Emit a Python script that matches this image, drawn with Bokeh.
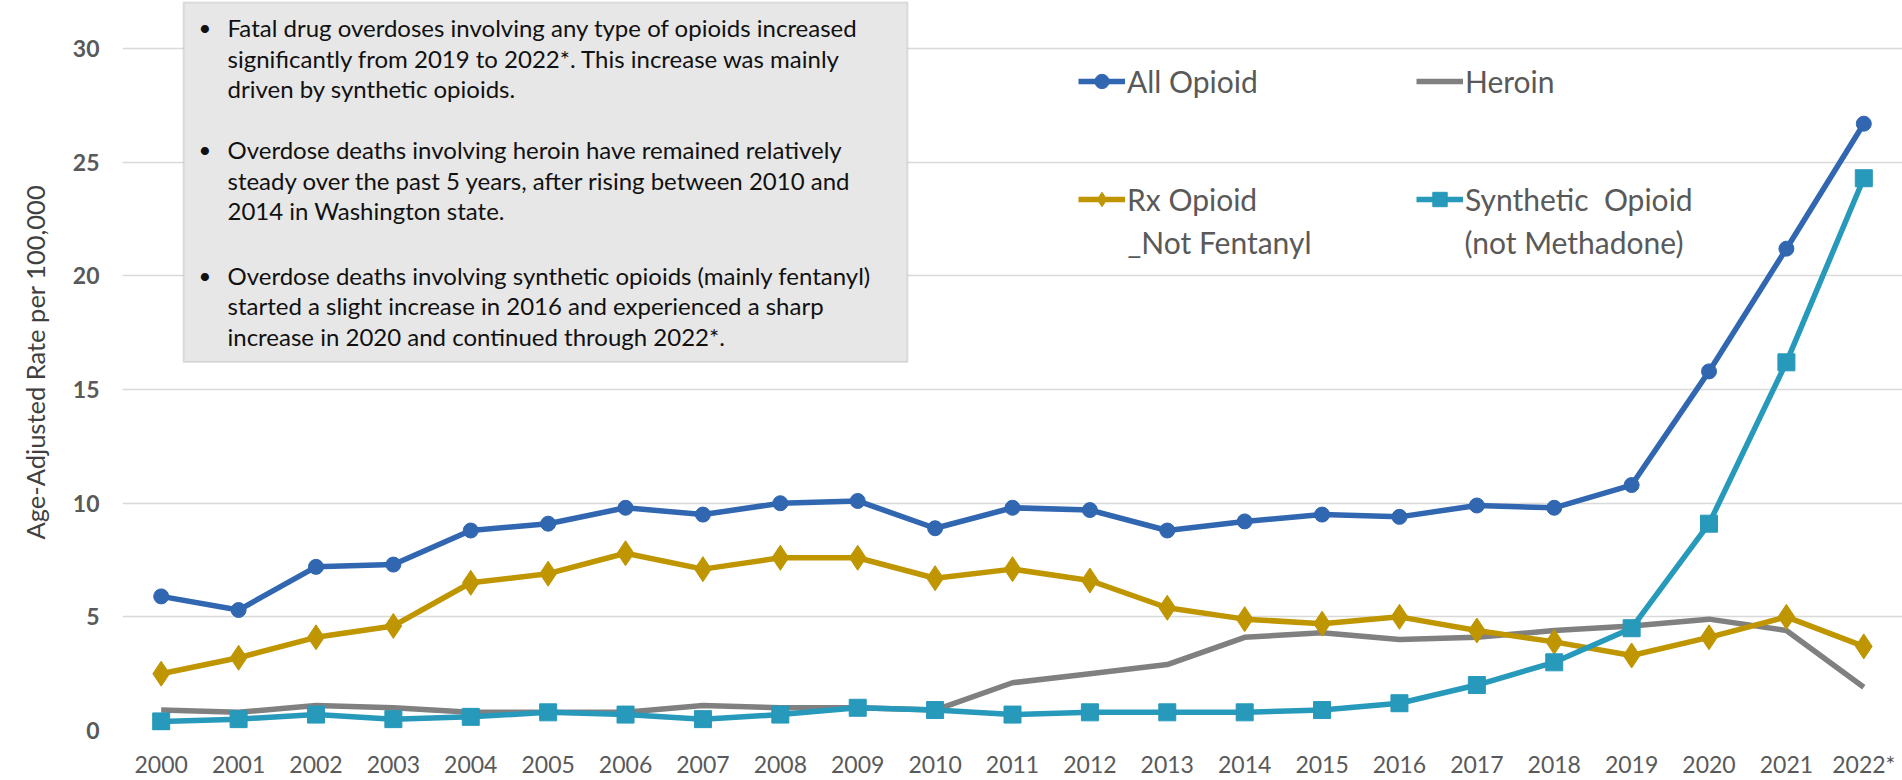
from bokeh.embed import file_html
from bokeh.models import (BoxAnnotation, FixedTicker, Label, Legend, LegendItem,
                          Range1d, Title)
from bokeh.plotting import figure
from bokeh.resources import INLINE

# ---- data: age-adjusted overdose death rate per 100,000, Washington state ----
years = list(range(2000, 2023))
year_labels = [str(y) for y in range(2000, 2022)] + ["2022*"]
y_ticks = [0, 5, 10, 15, 20, 25, 30]

all_opioid = [5.9, 5.3, 7.2, 7.3, 8.8, 9.1, 9.8, 9.5, 10.0, 10.1, 8.9, 9.8,
              9.7, 8.8, 9.2, 9.5, 9.4, 9.9, 9.8, 10.8, 15.8, 21.2, 26.7]
heroin = [0.9, 0.8, 1.1, 1.0, 0.8, 0.8, 0.8, 1.1, 1.0, 1.0, 0.9, 2.1,
          2.5, 2.9, 4.1, 4.3, 4.0, 4.1, 4.4, 4.6, 4.9, 4.4, 1.9]
rx_opioid = [2.5, 3.2, 4.1, 4.6, 6.5, 6.9, 7.8, 7.1, 7.6, 7.6, 6.7, 7.1,
             6.6, 5.4, 4.9, 4.7, 5.0, 4.4, 3.9, 3.3, 4.1, 5.0, 3.7]
synthetic = [0.4, 0.5, 0.7, 0.5, 0.6, 0.8, 0.7, 0.5, 0.7, 1.0, 0.9, 0.7,
             0.8, 0.8, 0.8, 0.9, 1.2, 2.0, 3.0, 4.5, 9.1, 16.2, 24.3]

notes = [
    ["Fatal drug overdoses involving any type of opioids increased",
     "significantly from 2019 to 2022*. This increase was mainly",
     "driven by synthetic opioids."],
    ["Overdose deaths involving heroin have remained relatively",
     "steady over the past 5 years, after rising between 2010 and",
     "2014 in Washington state."],
    ["Overdose deaths involving synthetic opioids (mainly fentanyl)",
     "started a slight increase in 2016 and experienced a sharp",
     "increase in 2020 and continued through 2022*."],
]

# ---- canvas geometry ----
W, H = 1902, 780
FRAME_LEFT = 122
FRAME_BOTTOM_BORDER = 49
FRAME_H = H - FRAME_BOTTOM_BORDER
X_START, X_END = years[0] - 0.5, years[-1] + 0.5
Y_END = 32.12

FONT = "Lato"
TICK_COLOR = "#595959"


def dx(px):
    """canvas pixel column -> data x"""
    return X_START + (px - FRAME_LEFT) * (X_END - X_START) / (W - FRAME_LEFT)


def dy(py):
    """canvas pixel row (from top) -> data y"""
    return (FRAME_H - py) * Y_END / FRAME_H


p = figure(
    width=W, height=H,
    x_range=Range1d(X_START, X_END), y_range=Range1d(0, Y_END),
    output_backend="svg", toolbar_location=None,
    min_border_left=FRAME_LEFT, min_border_right=0,
    min_border_top=0, min_border_bottom=FRAME_BOTTOM_BORDER,
)
p.outline_line_color = None
p.background_fill_color = "white"
p.border_fill_color = "white"

# axes
p.xaxis.ticker = FixedTicker(ticks=years)
p.xaxis.major_label_overrides = {y: lab for y, lab in zip(years, year_labels)}
p.yaxis.ticker = FixedTicker(ticks=y_ticks)
for ax in (p.xaxis[0], p.yaxis[0]):
    ax.axis_line_color = None
    ax.major_tick_line_color = None
    ax.minor_tick_line_color = None
    ax.major_tick_out = 0
    ax.major_tick_in = 0
    ax.major_label_text_font = FONT
    ax.major_label_text_font_size = "23px"
    ax.major_label_text_color = TICK_COLOR
p.yaxis.major_label_text_font_style = "bold"
p.yaxis.major_label_standoff = 23
p.xaxis.major_label_standoff = 19

p.xgrid.grid_line_color = None
p.ygrid.grid_line_color = "#d9d9d9"
p.ygrid.grid_line_width = 1.5

# y-axis title as a side title, so it can sit off-centre like the original
p.add_layout(Title(
    text="Age-Adjusted Rate  per 100,000", align="left", offset=191,
    standoff=36, vertical_align="top", text_font=FONT, text_font_size="25.5px",
    text_font_style="normal", text_color="#404040",
), "left")

# series
LW = 5.5
r_all = p.line(years, all_opioid, line_color="#3166b1", line_width=LW)
m_all = p.scatter(years, all_opioid, marker="circle", size=15,
                  fill_color="#3166b1", line_color="#3166b1")
r_her = p.line(years, heroin, line_color="#808080", line_width=LW)
r_rx = p.line(years, rx_opioid, line_color="#bf9500", line_width=LW)
m_rx = p.scatter(years, rx_opioid, marker="diamond", size=25,
                 fill_color="#bf9500", line_color="#bf9500")
r_syn = p.line(years, synthetic, line_color="#2799bb", line_width=LW)
m_syn = p.scatter(years, synthetic, marker="square", size=17,
                  fill_color="#2799bb", line_color="#2799bb")

# commentary box
p.add_layout(BoxAnnotation(
    left=dx(183), right=dx(907), top=dy(2), bottom=dy(362),
    fill_color="#e7e7e7", fill_alpha=1.0,
    line_color="#a6a6a6", line_width=2, level="overlay",
))
para_baselines = [27, 149, 275]
line_step = 30.8
for para, base in zip(notes, para_baselines):
    p.add_layout(Label(
        x=dx(198), y=dy(base), text="\u2022", text_font=FONT,
        text_font_size="22px", text_color="#111111", text_baseline="alphabetic",
        level="overlay",
    ))
    for i, line in enumerate(para):
        p.add_layout(Label(
            x=dx(227), y=dy(base + i * line_step), text=line,
            text_font=FONT, text_font_size="24px", text_color="#111111",
            text_baseline="alphabetic", level="overlay",
        ))

# legend: two columns, two rows
LEG_FONT = "30px"


def add_legend(label, renderers, gx, gy_center):
    leg = Legend(
        items=[LegendItem(label=label, renderers=renderers)],
        location=(gx - FRAME_LEFT, FRAME_H - gy_center - 18),
        orientation="vertical",
        padding=0, margin=0, spacing=0,
        glyph_width=47, glyph_height=36, label_standoff=2,
        label_height=36,
        label_text_font=FONT, label_text_font_size=LEG_FONT,
        label_text_color=TICK_COLOR,
        border_line_color=None, background_fill_alpha=0,
    )
    p.add_layout(leg)


add_legend("All Opioid", [r_all, m_all], 1078, 82)
add_legend("Heroin", [r_her], 1416, 82)
add_legend("Rx Opioid", [r_rx, m_rx], 1078, 200)
add_legend("Synthetic  Opioid", [r_syn, m_syn], 1416, 200)

for txt, gx in (("_Not Fentanyl", 1127), ("(not Methadone)", 1464)):
    p.add_layout(Label(
        x=dx(gx), y=dy(242), text=txt, text_font=FONT,
        text_font_size=LEG_FONT, text_color=TICK_COLOR, text_baseline="middle",
    ))

open("out.html", "w").write(file_html(p, INLINE))
